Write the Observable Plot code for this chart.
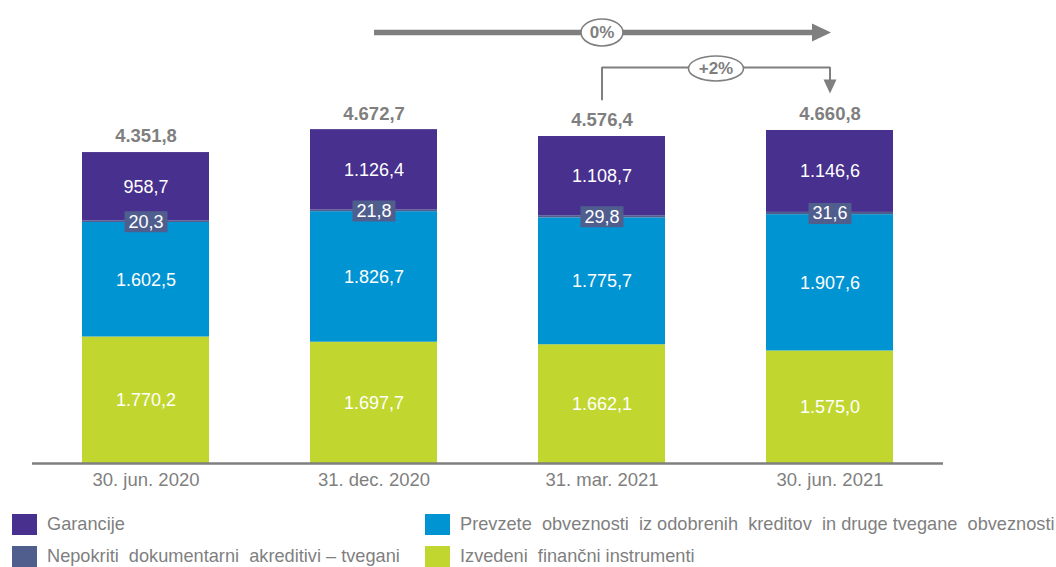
<!DOCTYPE html>
<html><head><meta charset="utf-8">
<script src="https://cdn.jsdelivr.net/npm/d3@7"></script>
<script src="https://cdn.jsdelivr.net/npm/@observablehq/plot@0.6"></script>
<style>
html,body{margin:0;padding:0;background:#fff;overflow:hidden;}
#wrap{position:relative;width:1056px;height:567px;font-family:"Liberation Sans",Arial,sans-serif;}
#chart svg{display:block;}
.lg{position:absolute;display:flex;align-items:center;color:#7f7f7f;font-size:18.2px;white-space:pre;}
.lg .sw{width:25px;height:21px;margin-right:10px;flex:none;}
</style></head>
<body><div id="wrap"><div id="chart"></div></div>
<script>
// ---- data ----
const dates = ["30. jun. 2020", "31. dec. 2020", "31. mar. 2021", "30. jun. 2021"];
const seriesNames = [
  "Izvedeni  finančni instrumenti",
  "Prevzete  obveznosti  iz odobrenih  kreditov  in druge tvegane  obveznosti",
  "Nepokriti  dokumentarni  akreditivi – tvegani",
  "Garancije"
];
const izvedeni  = [1770.2, 1697.7, 1662.1, 1575.0];
const prevzete  = [1602.5, 1826.7, 1775.7, 1907.6];
const nepokriti = [20.3, 21.8, 29.8, 31.6];
const garancije = [958.7, 1126.4, 1108.7, 1146.6];
const totals    = [4351.8, 4672.7, 4576.4, 4660.8];
const changeFrom   = ["31. dec. 2020", "31. mar. 2021"];
const changeTo     = "30. jun. 2021";
const changeLabels = ["0%", "+2%"];
const colors = ["#c1d72f", "#0094d3", "#505e8e", "#47308e"];
const gray = "#7f7f7f";

// ---- build ----
const fmt = d3.formatLocale({decimal: ",", thousands: ".", grouping: [3], currency: ["", ""]}).format(",.1f");
const valuesBySeries = [izvedeni, prevzete, nepokriti, garancije];
const rows = [];
valuesBySeries.forEach((vals, s) => vals.forEach((v, i) => rows.push({date: dates[i], series: seriesNames[s], value: v})));
const nepRows = dates.map((d, i) => ({date: d, y: izvedeni[i] + prevzete[i] + nepokriti[i] / 2, text: fmt(nepokriti[i])}));

const W = 1056, H = 500, mL = 32, mR = 113, mB = 37, mT = 0;
const xOpts = {domain: dates, paddingInner: 0.445, paddingOuter: 0.22};
const xs = Plot.scale({x: {type: "band", ...xOpts, range: [mL, W - mR]}});
const halfGap = (xs.apply(changeFrom[1]) - xs.apply(changeTo)) / 2;

const maxTotal = d3.max(totals);
const topLevel = maxTotal + 1360;
const bracketLevel = maxTotal + 870;
const iFrom2 = dates.indexOf(changeFrom[1]);
const iTo = dates.indexOf(changeTo);
const bracket = [
  {x: changeFrom[1], y: totals[iFrom2] + 518},
  {x: changeFrom[1], y: bracketLevel},
  {x: changeTo, y: bracketLevel},
  {x: changeTo, y: totals[iTo] + 680}
];

const triRight = {draw(c) { c.moveTo(1, 0); c.lineTo(-18, -9); c.lineTo(-18, 9); c.closePath(); }};
const triDown = {draw(c) { c.moveTo(0, 0); c.lineTo(-6.5, -14); c.lineTo(6.5, -14); c.closePath(); }};
const ellipse = (a, b) => ({draw(c) {
  const k = 0.5523;
  c.moveTo(a, 0);
  c.bezierCurveTo(a, k * b, k * a, b, 0, b);
  c.bezierCurveTo(-k * a, b, -a, k * b, -a, 0);
  c.bezierCurveTo(-a, -k * b, -k * a, -b, 0, -b);
  c.bezierCurveTo(k * a, -b, a, -k * b, a, 0);
  c.closePath();
}});
const box = {draw(c) { c.rect(-21.5, -10.5, 43, 21); }};

const plot = Plot.plot({
  width: W, height: H,
  marginLeft: mL, marginRight: mR, marginBottom: mB, marginTop: mT,
  style: {fontFamily: "'Liberation Sans', Arial, sans-serif", fontSize: "18px", color: gray, background: "white"},
  x: xOpts,
  y: {domain: [0, 6480], axis: null},
  color: {domain: seriesNames, range: colors},
  marks: [
    Plot.barY(rows, {x: "date", y: "value", fill: "series"}),
    Plot.ruleY([0], {stroke: gray, strokeWidth: 2.5}),
    Plot.axisX({tickSize: 0, tickPadding: 9, fontSize: 18.5, fill: gray}),
    Plot.text(rows, Plot.stackY({
      x: "date", y: "value",
      text: d => d.series === seriesNames[2] ? null : fmt(d.value),
      fill: "white", fontSize: 18
    })),
    Plot.dot(nepRows, {x: "date", y: "y", symbol: box, fill: colors[2], stroke: "none"}),
    Plot.text(nepRows, {x: "date", y: "y", text: "text", fill: "white", fontSize: 18}),
    Plot.text(dates, {x: d => d, y: (d, i) => totals[i], text: (d, i) => fmt(totals[i]), dy: -16, fontWeight: "bold", fill: gray, fontSize: 18.5}),
    // growth annotations
    Plot.arrow([0], {x1: () => changeFrom[0], x2: () => changeTo, y1: () => topLevel, y2: () => topLevel,
      headLength: 0, insetEnd: 14, stroke: gray, strokeWidth: 5.5, strokeLinecap: "butt"}),
    Plot.dot([0], {x: () => changeTo, y: () => topLevel, symbol: triRight, fill: gray, stroke: "none"}),
    Plot.line(bracket, {x: "x", y: "y", stroke: gray, strokeWidth: 2, strokeLinejoin: "miter"}),
    Plot.dot([0], {x: () => changeTo, y: () => totals[iTo] + 517, symbol: triDown, fill: gray, stroke: "none"}),
    Plot.dot([0], {x: () => changeFrom[1], y: () => topLevel, symbol: ellipse(21, 13.5), fill: "white", stroke: gray, strokeWidth: 1.6}),
    Plot.text([changeLabels[0]], {x: () => changeFrom[1], y: () => topLevel, text: d => d, fill: gray, fontWeight: "bold", fontSize: 17}),
    Plot.dot([0], {x: () => changeTo, y: () => bracketLevel, dx: halfGap, dy: 1, symbol: ellipse(27.5, 12.5), fill: "white", stroke: gray, strokeWidth: 1.6}),
    Plot.text([changeLabels[1]], {x: () => changeTo, y: () => bracketLevel, dx: halfGap, dy: 1, text: d => d, fill: gray, fontWeight: "bold", fontSize: 17})
  ]
});
document.getElementById("chart").appendChild(plot);

// ---- legend ----
const legendOrder = [3, 1, 2, 0];
const wrap = document.getElementById("wrap");
legendOrder.forEach((s, k) => {
  const el = document.createElement("div");
  el.className = "lg";
  el.style.left = (k % 2 === 0 ? 12 : 425) + "px";
  el.style.top = (k < 2 ? 514 : 546) + "px";
  el.innerHTML = `<span class="sw" style="background:${colors[s]}"></span><span>${seriesNames[s]}</span>`;
  wrap.appendChild(el);
});
</script>
</body></html>
